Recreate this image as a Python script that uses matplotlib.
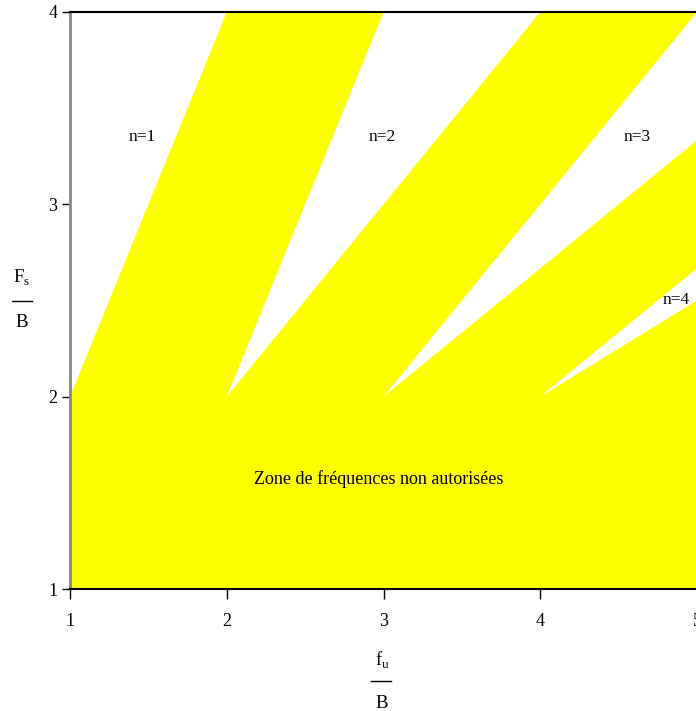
import matplotlib
matplotlib.use("Agg")
from matplotlib import pyplot as plt

plt.rcParams['font.family'] = ['Liberation Serif', 'DejaVu Serif']

# plot window (normalised frequencies)
x_range = [1, 5]
y_range = [1, 4]
x_ticks = [1, 2, 3, 4, 5]
y_ticks = [1, 2, 3, 4]

# allowed sampling wedges for each order n (vertices, in fu/B and Fs/B)
orders = [1, 2, 3, 4]
wedge_x = [[1, 2, 1], [2, 3, 4], [3, 5, 5], [4, 5, 5]]
wedge_y = [[2, 4, 4], [2, 4, 4], [2, 4, 10 / 3], [2, 8 / 3, 2.5]]

# order labels
label_x = [1.46, 2.99, 4.62, 4.87]
label_y = [3.35, 3.35, 3.35, 2.50]

forbidden_text = "Zone de fréquences non autorisées"

fig = plt.figure(figsize=(6.96, 7.11), dpi=100)
ax = fig.add_axes([70 / 696, 1 - 589 / 711, 627 / 696, 577 / 711])

# forbidden zone everywhere, allowed wedges punched out in white
ax.fill([x_range[0], x_range[1], x_range[1], x_range[0]],
        [y_range[0], y_range[0], y_range[1], y_range[1]],
        color='#ffff00', lw=0)
for xs, ys in zip(wedge_x, wedge_y):
    ax.fill(xs, ys, color='white', lw=0)

for n, tx, ty in zip(orders, label_x, label_y):
    ax.text(tx, ty, 'n=%d' % n, ha='center', va='center', fontsize=12.5)

ax.text(2.97, 1.57, forbidden_text, ha='center', va='center', fontsize=13)

ax.set_xlim(x_range)
ax.set_ylim(y_range)
ax.set_xticks(x_ticks)
ax.set_yticks(y_ticks)
ax.tick_params(direction='out', length=7, width=1, labelsize=13)
ax.tick_params(axis='x', pad=10)
ax.tick_params(axis='y', length=6, pad=3)

ax.spines['left'].set_color('#888888')
ax.spines['left'].set_linewidth(2)
ax.spines['bottom'].set_linewidth(1.5)
ax.spines['top'].set_linewidth(1.5)
ax.spines['right'].set_visible(False)

# axis labels drawn as stacked fractions
fig.text(22 / 696, 1 - 278 / 711, r'F$_{\mathregular{s}}$', ha='center', va='center', fontsize=13.5)
fig.add_artist(plt.Line2D([12 / 696, 32 / 696], [1 - 301 / 711, 1 - 301 / 711], color='black', lw=1))
fig.text(22 / 696, 1 - 323 / 711, 'B', ha='center', va='center', fontsize=13.5)

fig.text(382 / 696, 1 - 660 / 711, r'f$_{\mathregular{u}}$', ha='center', va='center', fontsize=13.5)
fig.add_artist(plt.Line2D([371 / 696, 391 / 696], [1 - 681 / 711, 1 - 681 / 711], color='black', lw=1))
fig.text(382 / 696, 1 - 703 / 711, 'B', ha='center', va='center', fontsize=13.5)

fig.savefig('out.png', dpi=100)
